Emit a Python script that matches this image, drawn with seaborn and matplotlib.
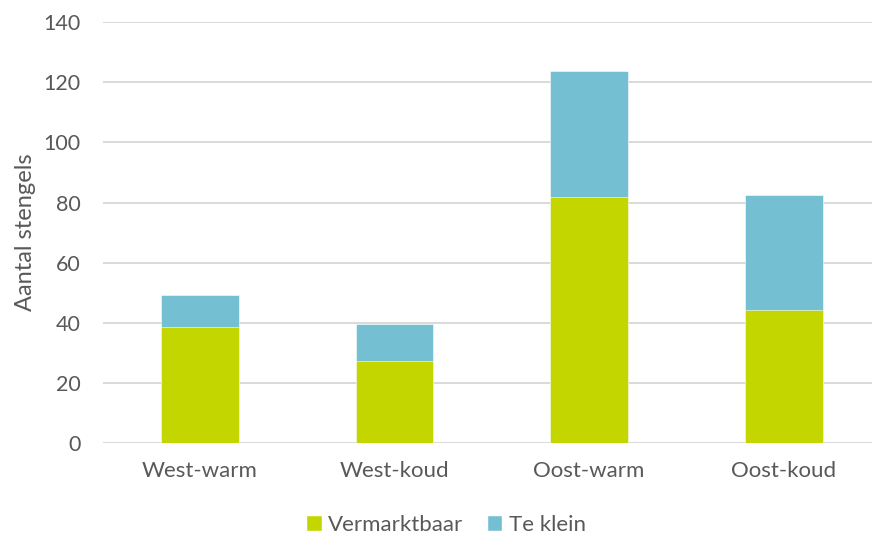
import numpy as np
import pandas as pd
import matplotlib
matplotlib.use("Agg")
import matplotlib.pyplot as plt
from matplotlib.patches import Patch
import seaborn as sns

categories = ["West-warm", "West-koud", "Oost-warm", "Oost-koud"]
vermarktbaar = [38.8, 27.3, 82.0, 44.3]
te_klein = [10.6, 12.3, 41.9, 38.2]
y_ticks = [0, 20, 40, 60, 80, 100, 120, 140]

GREEN = "#C4D600"
BLUE = "#75BFD3"
TEXT = "#595959"
GRID = "#D9D9D9"

sns.set_theme(style="white")
plt.rcParams["font.family"] = ["Lato", "DejaVu Sans"]

df = pd.DataFrame({
    "categorie": categories,
    "Vermarktbaar": vermarktbaar,
    "Te klein": te_klein,
})
df["totaal"] = df["Vermarktbaar"] + df["Te klein"]

fig = plt.figure(figsize=(8.72, 5.38), dpi=100)
ax = fig.add_axes([0.1178, 0.176, 0.8925, 0.783])

# stacked bars: total in blue, marketable part drawn over it in green
sns.barplot(data=df, x="categorie", y="totaal", order=categories,
            color=BLUE, width=0.4, saturation=1, ax=ax,
            edgecolor="white", linewidth=0.4, zorder=3)
sns.barplot(data=df, x="categorie", y="Vermarktbaar", order=categories,
            color=GREEN, width=0.4, saturation=1, ax=ax,
            edgecolor="white", linewidth=0.4, zorder=4)

ax.set_xlim(-0.5, 3.5)
ax.set_ylim(0, 140)
ax.set_yticks(y_ticks)
ax.yaxis.grid(True, color=GRID, linewidth=1.4, zorder=0)
ax.set_axisbelow(True)
for s in ax.spines.values():
    s.set_visible(False)
ax.tick_params(axis="y", length=0, pad=16, labelsize=15.5, labelcolor=TEXT)
ax.tick_params(axis="x", length=0, pad=13, labelsize=16, labelcolor=TEXT)
ax.set_xlabel("")
ax.set_ylabel("Aantal stengels", fontsize=17, color=TEXT, labelpad=5)

handles = [Patch(facecolor=GREEN, label="Vermarktbaar"),
           Patch(facecolor=BLUE, label="Te klein")]
fig.legend(handles=handles, loc="center", bbox_to_anchor=(446 / 872, 1 - 525 / 538),
           ncol=2, frameon=False, fontsize=16, labelcolor=TEXT,
           handlelength=0.7, handleheight=0.7, handletextpad=0.3,
           columnspacing=1.05)

fig.savefig("out.png", dpi=100)
